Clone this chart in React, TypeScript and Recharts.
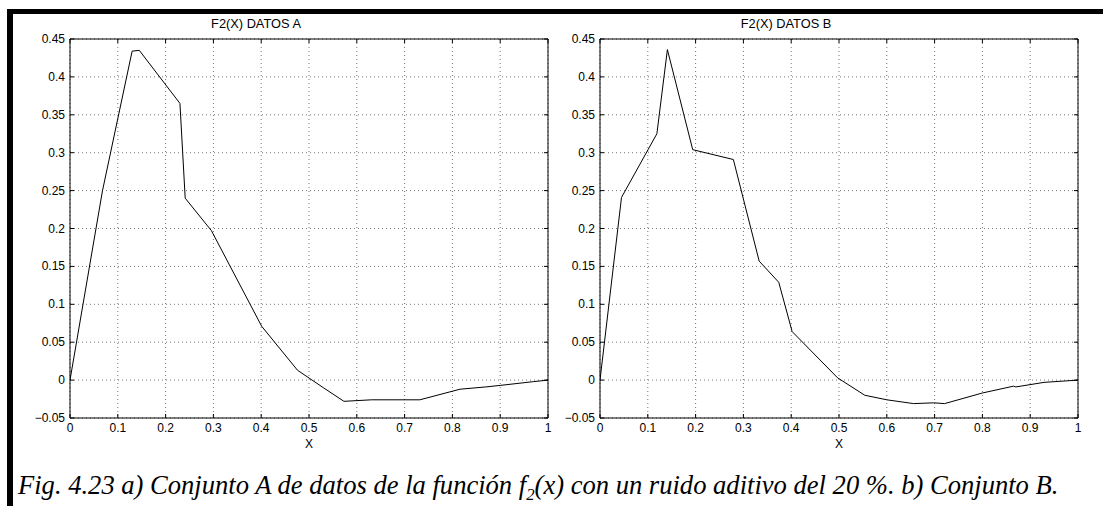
import { useLayoutEffect, useRef, useState } from "react"
import { LineChart, Line, XAxis, YAxis, CartesianGrid, ReferenceArea } from "recharts"

// axis ticks
const X_TICKS = [0, 0.1, 0.2, 0.3, 0.4, 0.5, 0.6, 0.7, 0.8, 0.9, 1]
const Y_TICKS = [-0.05, 0, 0.05, 0.1, 0.15, 0.2, 0.25, 0.3, 0.35, 0.4, 0.45]

// data set A
const xA = [0, 0.068, 0.13, 0.145, 0.23, 0.241, 0.296, 0.401, 0.476, 0.53, 0.573, 0.631, 0.732, 0.816, 0.87, 0.9, 0.97, 1]
const yA = [0, 0.25, 0.434, 0.435, 0.365, 0.24, 0.197, 0.071, 0.013, -0.01, -0.028, -0.026, -0.026, -0.012, -0.009, -0.007, -0.002, 0]

// data set B
const xB = [0, 0.045, 0.119, 0.141, 0.194, 0.279, 0.333, 0.374, 0.402, 0.497, 0.554, 0.6, 0.656, 0.698, 0.721, 0.8, 0.865, 0.87, 0.929, 1]
const yB = [0, 0.241, 0.325, 0.436, 0.304, 0.291, 0.157, 0.129, 0.064, 0.003, -0.02, -0.026, -0.031, -0.03, -0.031, -0.017, -0.008, -0.009, -0.003, 0]

const TITLES = ["F2(X) DATOS A", "F2(X) DATOS B"]
const X_LABEL = "X"

const CHART_W = 560
const CHART_H = 450
const PLOT_TOP = 39
const PLOT_BOTTOM = 418
const PLOT_LEFT = 70
const PLOT_RIGHT = 548
const TICK_LEN = 4
const CAPTION_W = 1040
const SANS = '"Liberation Sans", Arial, sans-serif'
const SERIF = '"Liberation Serif", Tinos, "Times New Roman", Times, serif'

const fmt = (v: number) => (v < 0 ? "\u2212" + String(-v) : String(v))

function XTick({ x, payload }: any) {
  return (
    <g>
      <line x1={x} x2={x} y1={PLOT_BOTTOM} y2={PLOT_BOTTOM - TICK_LEN} stroke="#000" />
      <line x1={x} x2={x} y1={PLOT_TOP} y2={PLOT_TOP + TICK_LEN} stroke="#000" />
      <text x={x} y={PLOT_BOTTOM + 14} textAnchor="middle" fill="#000" style={{ fontSize: 12, fontFamily: SANS }}>
        {fmt(payload.value)}
      </text>
    </g>
  )
}

function YTick({ y, payload }: any) {
  return (
    <g>
      <line x1={PLOT_LEFT} x2={PLOT_LEFT + TICK_LEN} y1={y} y2={y} stroke="#000" />
      <line x1={PLOT_RIGHT} x2={PLOT_RIGHT - TICK_LEN} y1={y} y2={y} stroke="#000" />
      <text x={PLOT_LEFT - 5} y={y + 4} textAnchor="end" fill="#000" style={{ fontSize: 12, fontFamily: SANS }}>
        {fmt(payload.value)}
      </text>
    </g>
  )
}

function Panel({ xs, ys, left }: { xs: number[]; ys: number[]; left: number }) {
  const data = xs.map((x, i) => ({ x, y: ys[i] }))
  return (
    <div style={{ position: "absolute", left, top: 0 }}>
      <LineChart
        width={CHART_W}
        height={CHART_H}
        data={data}
        margin={{ top: PLOT_TOP, right: CHART_W - PLOT_RIGHT, bottom: 0, left: 0 }}
      >
        <CartesianGrid stroke="#777" strokeDasharray="1 3" />
        <XAxis
          dataKey="x"
          type="number"
          domain={[0, 1]}
          ticks={X_TICKS}
          height={CHART_H - PLOT_BOTTOM}
          axisLine={false}
          tickLine={false}
          tick={<XTick />}
          allowDataOverflow
        />
        <YAxis
          type="number"
          domain={[-0.05, 0.45]}
          ticks={Y_TICKS}
          width={PLOT_LEFT}
          axisLine={false}
          tickLine={false}
          tick={<YTick />}
          allowDataOverflow
        />
        <ReferenceArea x1={0} x2={1} y1={-0.05} y2={0.45} fill="none" stroke="#000" strokeWidth={1} />
        <Line type="linear" dataKey="y" stroke="#000" strokeWidth={1} dot={false} isAnimationActive={false} />
      </LineChart>
    </div>
  )
}

// caption squeezed to a fixed width
function Caption() {
  const ref = useRef<HTMLDivElement>(null)
  const [sx, setSx] = useState(1)
  useLayoutEffect(() => {
    if (ref.current) setSx(CAPTION_W / ref.current.scrollWidth)
  }, [])
  return (
    <div
      ref={ref}
      style={{
        position: "absolute",
        left: 18,
        top: 470,
        whiteSpace: "nowrap",
        fontFamily: SERIF,
        fontStyle: "italic",
        fontSize: 27,
        lineHeight: "30px",
        transform: `scaleX(${sx})`,
        transformOrigin: "0 0",
      }}
    >
      Fig. 4.23 a) Conjunto A de datos de la función f<sub style={{ fontSize: 17, lineHeight: 0 }}>2</sub>(x) con un ruido
      aditivo del 20 %. b) Conjunto B.
    </div>
  )
}

export default function App() {
  return (
    <div style={{ position: "absolute", left: 0, top: 0, width: 1103, height: 506, background: "#fff", overflow: "hidden" }}>
      <div style={{ position: "absolute", left: 7, top: 9, width: 1096, height: 5, background: "#000" }} />
      <div style={{ position: "absolute", left: 7, top: 9, width: 6, height: 497, background: "#000" }} />
      <Panel xs={xA} ys={yA} left={0} />
      <Panel xs={xB} ys={yB} left={530} />
      <svg width={1103} height={506} style={{ position: "absolute", left: 0, top: 0, pointerEvents: "none" }}>
        <g style={{ fontFamily: SANS }}>
          <text x={256} y={28} textAnchor="middle" style={{ fontSize: 12.8 }}>{TITLES[0]}</text>
          <text x={786} y={28} textAnchor="middle" style={{ fontSize: 12.8 }}>{TITLES[1]}</text>
          <text x={309} y={448} textAnchor="middle" style={{ fontSize: 12 }}>{X_LABEL}</text>
          <text x={839} y={448} textAnchor="middle" style={{ fontSize: 12 }}>{X_LABEL}</text>
        </g>
      </svg>
      <Caption />
    </div>
  )
}
